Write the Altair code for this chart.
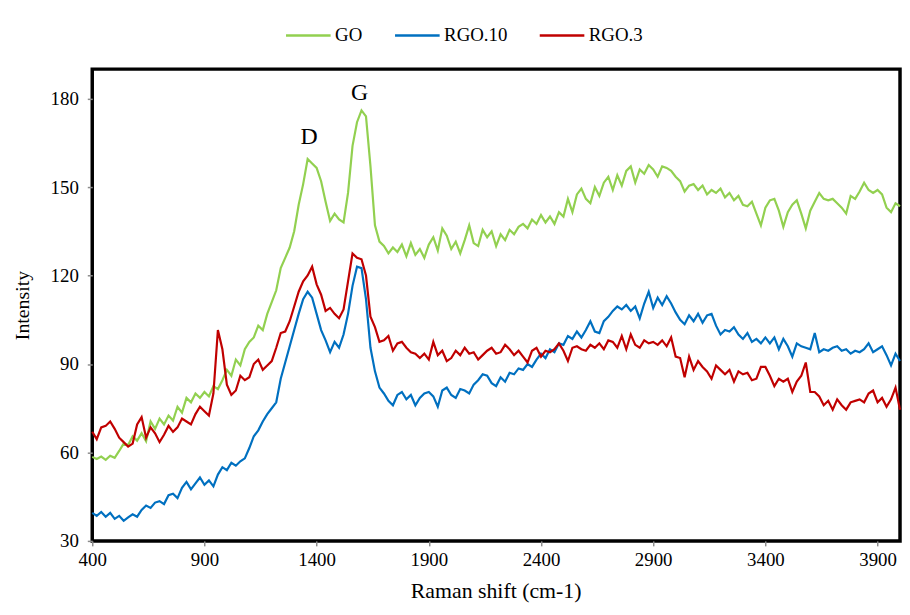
import altair as alt
import pandas as pd

raman_shift = list(range(400, 4001, 20))

go = [
    58.5, 57.8, 58.6, 57.5, 58.9, 58.2, 60.5, 63.0, 62.5, 65.5,
    64.0, 66.5, 63.8, 70.5, 68.0, 71.5, 69.5, 72.5, 70.8, 75.5,
    73.5, 78.5, 77.0, 80.0, 78.5, 80.5, 79.0, 82.5, 81.5, 84.5,
    88.0, 86.0, 91.5, 89.5, 95.0, 97.5, 99.0, 103.0, 101.5, 107.0,
    111.0, 115.0, 122.5, 126.0, 129.5, 135.0, 144.0, 151.0, 159.5, 158.0,
    156.5, 152.0, 145.0, 138.5, 141.0, 139.0, 138.0, 148.0, 164.0, 172.0,
    176.0, 174.0, 157.0, 137.0, 131.5, 130.0, 127.5, 129.5, 128.0, 130.5,
    126.5, 131.0, 127.0, 129.0, 126.0, 130.5, 133.0, 128.5, 136.0, 133.5,
    129.0, 131.5, 127.5, 132.0, 137.0, 131.0, 130.0, 135.5, 133.0, 135.0,
    130.0, 134.0, 132.0, 135.5, 134.0, 136.5, 137.5, 136.0, 139.0, 137.5,
    140.5, 138.0, 140.0, 137.5, 141.5, 140.0, 146.0, 141.5, 147.5, 149.5,
    146.0, 144.5, 150.0, 147.0, 151.5, 153.5, 149.0, 154.0, 150.5, 155.5,
    157.0, 151.5, 156.0, 154.5, 157.5, 156.0, 153.5, 157.0, 156.5, 155.5,
    153.5, 152.0, 148.5, 150.5, 151.0, 149.0, 150.5, 147.5, 149.0, 148.0,
    149.5, 146.5, 148.0, 145.5, 147.0, 144.0, 143.5, 145.0, 141.0, 137.0,
    143.0, 145.5, 146.0, 142.0, 136.5, 141.5, 144.0, 145.5, 141.0, 136.0,
    142.0, 145.0, 148.0, 146.0, 145.5, 146.0, 144.5, 143.0, 141.0, 147.0,
    146.0, 148.5, 151.5, 149.0, 148.0, 149.0, 147.5, 143.0, 141.5, 144.5,
    143.5,
]

rgo10 = [
    39.5, 38.5, 39.8, 38.2, 39.5, 37.5, 38.5, 36.8, 38.0, 39.0,
    38.2, 40.5, 42.0, 41.2, 43.0, 43.5, 42.5, 45.5, 46.0, 44.5,
    48.0, 50.0, 47.5, 49.5, 51.5, 49.0, 50.5, 48.5, 52.5, 55.0,
    54.0, 56.5, 55.5, 57.0, 58.0, 61.5, 65.5, 67.5, 70.5, 73.0,
    75.0, 77.0, 85.0, 90.5, 96.0, 101.5, 107.0, 112.0, 114.5, 112.5,
    107.0, 101.5, 98.0, 94.0, 97.5, 95.5, 100.0, 107.0, 116.5, 123.0,
    122.5, 112.0, 95.5, 87.5, 82.0, 80.0, 77.5, 76.0, 79.5, 80.5,
    78.0, 79.5, 76.0, 78.5, 80.0, 80.5, 79.0, 75.5, 81.0, 82.0,
    79.5, 78.5, 81.5, 81.0, 80.0, 83.0, 84.5, 86.5, 86.0, 83.5,
    82.5, 85.5, 84.0, 87.0, 86.5, 88.5, 88.0, 90.0, 89.0, 91.5,
    93.5, 92.0, 95.0, 94.0, 97.0, 96.5, 99.5, 98.5, 101.0, 99.0,
    101.5, 104.5, 101.0, 100.5, 104.5, 106.0, 108.0, 109.5, 108.5, 110.0,
    108.0, 109.5, 105.5, 110.5, 114.5, 109.0, 112.5, 110.0, 113.0, 110.5,
    107.5, 105.0, 103.5, 106.5, 104.5, 107.0, 104.0, 106.5, 107.0, 103.0,
    100.0, 101.5, 101.0, 102.5, 100.0, 98.5, 100.5, 97.5, 98.5, 97.0,
    99.0, 97.0, 99.0, 95.0, 98.5, 96.0, 92.5, 97.0, 96.0, 95.5,
    95.0, 100.5, 94.0, 95.0, 94.5, 95.5, 96.0, 94.5, 95.0, 93.5,
    94.5, 94.0, 95.0, 97.0, 94.0, 95.0, 96.0, 93.0, 89.5, 93.5,
    91.0,
]

rgo3 = [
    67.0, 64.5, 68.5, 69.0, 70.5, 68.0, 65.0, 63.5, 62.0, 63.0,
    69.5, 72.0, 65.0, 68.5, 66.5, 63.5, 66.0, 69.0, 67.0, 68.5,
    71.5, 70.5, 69.5, 73.0, 75.5, 74.0, 72.5, 80.0, 101.5, 95.0,
    83.0, 79.5, 81.0, 86.0, 84.5, 85.5, 90.0, 91.5, 88.0, 89.5,
    91.0, 95.5, 100.5, 101.0, 104.5, 109.5, 114.5, 118.0, 120.0, 123.0,
    117.0, 113.5, 108.0, 109.0, 107.0, 105.5, 108.5, 118.0, 127.5, 126.0,
    125.5, 120.0, 106.0, 102.5, 97.5, 98.0, 99.5, 94.5, 97.0, 97.5,
    95.5, 94.0, 93.5, 92.0, 93.5, 91.5, 97.5, 93.0, 94.5, 91.0,
    92.0, 94.5, 93.0, 95.5, 93.5, 94.0, 91.5, 93.0, 94.5, 95.5,
    93.5, 94.0, 96.5, 95.0, 93.0, 94.5, 92.5, 90.5, 94.5, 95.5,
    92.5, 94.5, 94.0, 95.0, 97.0, 94.5, 91.0, 95.5, 96.0, 95.0,
    94.5, 96.5, 95.5, 97.0, 95.0, 98.0, 97.5, 95.5, 99.5, 95.0,
    100.0, 96.5, 95.5, 98.0, 97.0, 97.5, 96.5, 98.0, 96.0, 99.0,
    92.5, 92.0, 85.5, 92.5, 88.0, 91.0, 89.0, 87.5, 85.0, 89.5,
    88.0, 86.5, 88.0, 84.0, 87.5, 86.5, 87.0, 84.5, 85.0, 89.0,
    89.0, 86.0, 82.5, 85.0, 84.0, 85.0, 80.5, 84.0, 86.0, 90.5,
    80.5, 80.5, 79.0, 76.0, 77.5, 74.5, 78.0, 76.0, 74.5, 77.0,
    77.5, 78.0, 77.0, 80.0, 81.0, 77.0, 78.5, 75.5, 78.0, 82.0,
    74.5,
]

series_names = ["GO", "RGO.10", "RGO.3"]
series_colors = ["#92D050", "#0070C0", "#C00000"]
x_ticks = [400, 900, 1400, 1900, 2400, 2900, 3400, 3900]
y_ticks = [30, 60, 90, 120, 150, 180]
peak_labels = ["D", "G"]
peak_x = [1366, 1591]
peak_y = [167, 182]

rows = []
for name, vals in zip(series_names, [go, rgo10, rgo3]):
    for xv, yv in zip(raman_shift, vals):
        rows.append({"shift": xv, "intensity": yv, "series": name})
df = pd.DataFrame(rows)
peaks = pd.DataFrame({"label": peak_labels, "shift": peak_x, "intensity": peak_y})

FONT = "Liberation Serif"

x_enc = alt.X(
    "shift:Q",
    scale=alt.Scale(domain=[400, 4000], nice=False, zero=False),
    axis=alt.Axis(
        values=x_ticks, format="d", title="Raman shift (cm-1)", grid=False, domain=False,
        tickColor="#8c8c8c", tickSize=5, tickWidth=1.5,
        labelFont=FONT, labelFontSize=19, labelColor="black", labelPadding=5,
        labelFontWeight="normal",
        titleFont=FONT, titleFontSize=22, titleFontWeight="normal", titleColor="black",
        titleX=407, titleY=50, titleBaseline="middle", titleAlign="center",
        labelFlush=False,
    ),
)
y_enc = alt.Y(
    "intensity:Q",
    scale=alt.Scale(domain=[30, 190], nice=False, zero=False),
    axis=alt.Axis(
        values=y_ticks, format="d", title="Intensity", grid=False, domain=False,
        tickColor="#8c8c8c", tickSize=5, tickWidth=1.5,
        labelFont=FONT, labelFontSize=19, labelColor="black", labelPadding=9,
        labelFontWeight="normal",
        titleFont=FONT, titleFontSize=20, titleFontWeight="normal", titleColor="black",
        titleX=-70, titleY=238, titleBaseline="middle", titleAlign="center", titleAngle=270,
        labelFlush=False,
    ),
)

lines = alt.Chart(df).mark_line(strokeWidth=2.2).encode(
    x=x_enc,
    y=y_enc,
    color=alt.Color(
        "series:N",
        scale=alt.Scale(domain=series_names, range=series_colors),
        sort=series_names,
        legend=alt.Legend(
            title=None, orient="none", direction="horizontal",
            legendX=194, legendY=-58,
            symbolType="stroke", symbolSize=2025, symbolStrokeWidth=2.5,
            labelFont=FONT, labelFontSize=19, labelColor="black",
            labelFontWeight="normal",
            labelOffset=3, columnPadding=27,
        ),
    ),
    order=alt.Order("shift:Q"),
)

texts = alt.Chart(peaks).mark_text(
    font=FONT, fontSize=24, color="black", baseline="middle", align="center"
).encode(
    x="shift:Q",
    y="intensity:Q",
    text="label:N",
)

chart = alt.layer(lines, texts).properties(
    width=815,
    height=476,
    padding={"left": 85, "top": 59, "right": 2, "bottom": 62},
    autosize=alt.AutoSizeParams(type="none"),
).configure(
    background="white", font=FONT
).configure_view(
    stroke="black", strokeWidth=3.5
).configure_legend(
    labelFont=FONT, labelFontWeight="normal"
)

chart.save("out.html", embed_options={"renderer": "svg", "actions": False})
